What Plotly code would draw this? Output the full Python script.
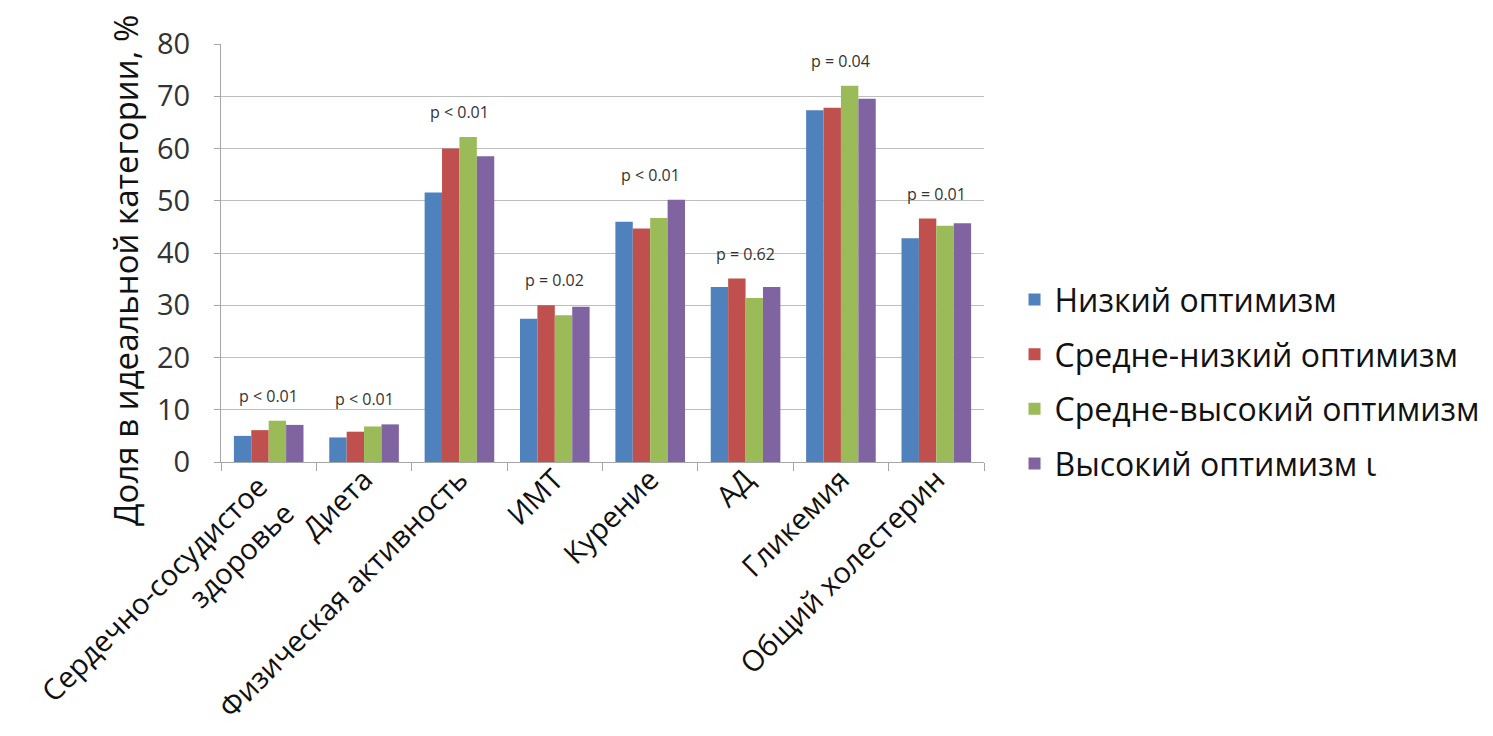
import plotly.graph_objects as go

categories = [
    "Сердечно-сосудистое<br>здоровье",
    "Диета",
    "Физическая активность",
    "ИМТ",
    "Курение",
    "АД",
    "Гликемия",
    "Общий холестерин",
]

low = [5.0, 4.7, 51.6, 27.4, 46.0, 33.5, 67.3, 42.8]
mid_low = [6.1, 5.8, 60.0, 30.0, 44.7, 35.1, 67.8, 46.6]
mid_high = [7.9, 6.8, 62.2, 28.1, 46.7, 31.4, 72.0, 45.2]
high = [7.1, 7.2, 58.5, 29.7, 50.2, 33.5, 69.5, 45.7]

series_names = [
    "Низкий оптимизм",
    "Средне-низкий оптимизм",
    "Средне-высокий оптимизм",
    "Высокий оптимизм ι",
]

p_labels = ["p < 0.01", "p < 0.01", "p < 0.01", "p = 0.02",
            "p < 0.01", "p = 0.62", "p = 0.04", "p = 0.01"]

y_title = "Доля в идеальной категории, %"

colors = ["#4F81BD", "#C0504D", "#9BBB59", "#8064A2"]
FONT = "Open Sans, Noto Sans, sans-serif"

fig = go.Figure()
for i, (name, vals) in enumerate(zip(series_names, [low, mid_low, mid_high, high])):
    fig.add_trace(go.Bar(
        x=categories, y=vals, name=name,
        marker=dict(color=colors[i], line=dict(width=0)),
        legendgroup=f"g{i}",
    ))

# p-value labels above each category group
for cat, lab, a, b, c, d in zip(categories, p_labels, low, mid_low, mid_high, high):
    fig.add_annotation(
        x=cat, y=max(a, b, c, d) + 2.3, text=lab, showarrow=False,
        yanchor="bottom", font=dict(size=16, color="#333333", family=FONT),
    )

# two-line first category label, right-aligned like the rest of the axis
fig.add_annotation(
    x=categories[0], xref="x", y=0, yref="y",
    text=categories[0], textangle=-45, align="right",
    xanchor="right", yanchor="top", xshift=36, yshift=-2,
    showarrow=False, font=dict(size=29, color="#111111", family=FONT),
)

# vertical axis title
fig.add_annotation(
    x=-0.126, xref="paper", y=0.459, yref="paper",
    text=y_title, textangle=-90, xanchor="center", yanchor="middle",
    showarrow=False, font=dict(size=33, color="#111111", family=FONT),
)

fig.update_layout(
    width=1493, height=736,
    margin=dict(l=221, r=509, t=44, b=274, autoexpand=False),
    plot_bgcolor="white", paper_bgcolor="white",
    barmode="group", bargap=0.27, bargroupgap=0,
    font=dict(family=FONT, color="#222222"),
    legend=dict(
        x=1.04, y=0.63, xanchor="left", yanchor="top",
        xref="paper", yref="container",
        font=dict(size=32, color="#111111", family=FONT),
        tracegroupgap=10, itemwidth=30,
    ),
    showlegend=True,
)

fig.update_yaxes(
    range=[0, 80], dtick=10, automargin=False,
    showgrid=True, gridcolor="#BFBFBF", gridwidth=1.3,
    showline=True, linecolor="#A6A6A6", linewidth=1.3,
    ticks="outside", ticklen=6, tickcolor="#A6A6A6",
    ticklabelstandoff=18,
    tickfont=dict(size=29, color="#333333"),
    zeroline=False,
)
fig.update_xaxes(
    automargin=False,
    type="category",
    categoryorder="array", categoryarray=categories,
    range=[-0.5, len(categories) - 0.5],
    tickmode="array",
    tickvals=categories,
    ticktext=[""] + categories[1:],
    showline=True, linecolor="#A6A6A6", linewidth=1.3,
    ticks="outside", tickson="boundaries", ticklen=8, tickcolor="#A6A6A6",
    ticklabelstandoff=-12,
    tickangle=-45, tickfont=dict(size=29, color="#111111"),
)

fig.write_html("out.html")
